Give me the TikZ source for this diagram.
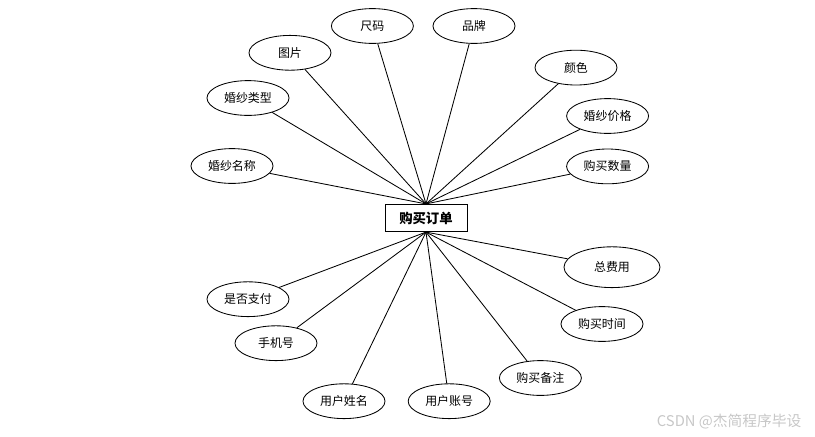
\documentclass[tikz,border=0pt]{standalone}
\usepackage{fontspec}
\setmainfont{Noto Sans CJK SC}
\usetikzlibrary{shapes.geometric}

\begin{document}
\begin{tikzpicture}[
                font=\fontsize{8.5}{10}\selectfont,
                entity/.style={draw, line width=0.7pt, minimum width=2.05cm, minimum height=0.68cm, inner sep=0pt, font=\fontsize{9.5}{11}\selectfont\bfseries},
                attr/.style={draw, ellipse, line width=0.6pt, minimum width=2.05cm, minimum height=0.87cm, inner sep=0pt},
                link/.style={line width=0.6pt}
            ]
                \useasboundingbox (-10.65,-5.45) rectangle (9.725,5.45);
                \node[entity] (order) at (0,0) {购买订单};
                % attributes above
                \node[attr] (name) at (-4.85,1.30) {婚纱名称};
                \node[attr] (type) at (-4.45,3.00) {婚纱类型};
                \node[attr] (pic) at (-3.40,4.13) {图片};
                \node[attr] (size) at (-1.34,4.80) {尺码};
                \node[attr] (brand) at (1.20,4.80) {品牌};
                \node[attr] (color) at (3.75,3.76) {颜色};
                \node[attr] (price) at (4.54,2.55) {婚纱价格};
                \node[attr] (qty) at (4.54,1.29) {购买数量};
                % attributes below
                \node[attr, minimum width=2.4cm, minimum height=1.02cm] (cost) at (4.65,-1.23) {总费用};
                \node[attr] (time) at (4.40,-2.65) {购买时间};
                \node[attr] (note) at (2.86,-4.00) {购买备注};
                \node[attr] (account) at (0.58,-4.58) {用户账号};
                \node[attr] (uname) at (-2.05,-4.58) {用户姓名};
                \node[attr] (phone) at (-3.75,-3.13) {手机号};
                \node[attr] (paid) at (-4.45,-2.03) {是否支付};
                \foreach \a in {name, type, pic, size, brand, color, price, qty}
                    \draw[link] (order.north) -- (\a);
                \foreach \a in {cost, time, note, account, uname, phone, paid}
                    \draw[link] (order.south) -- (\a);
                \node[text=black!22, font=\fontsize{10.5}{12}\selectfont] (mark) at (7.58,-5.08) {CSDN @杰简程序毕设};
            \end{tikzpicture}
\end{document}
